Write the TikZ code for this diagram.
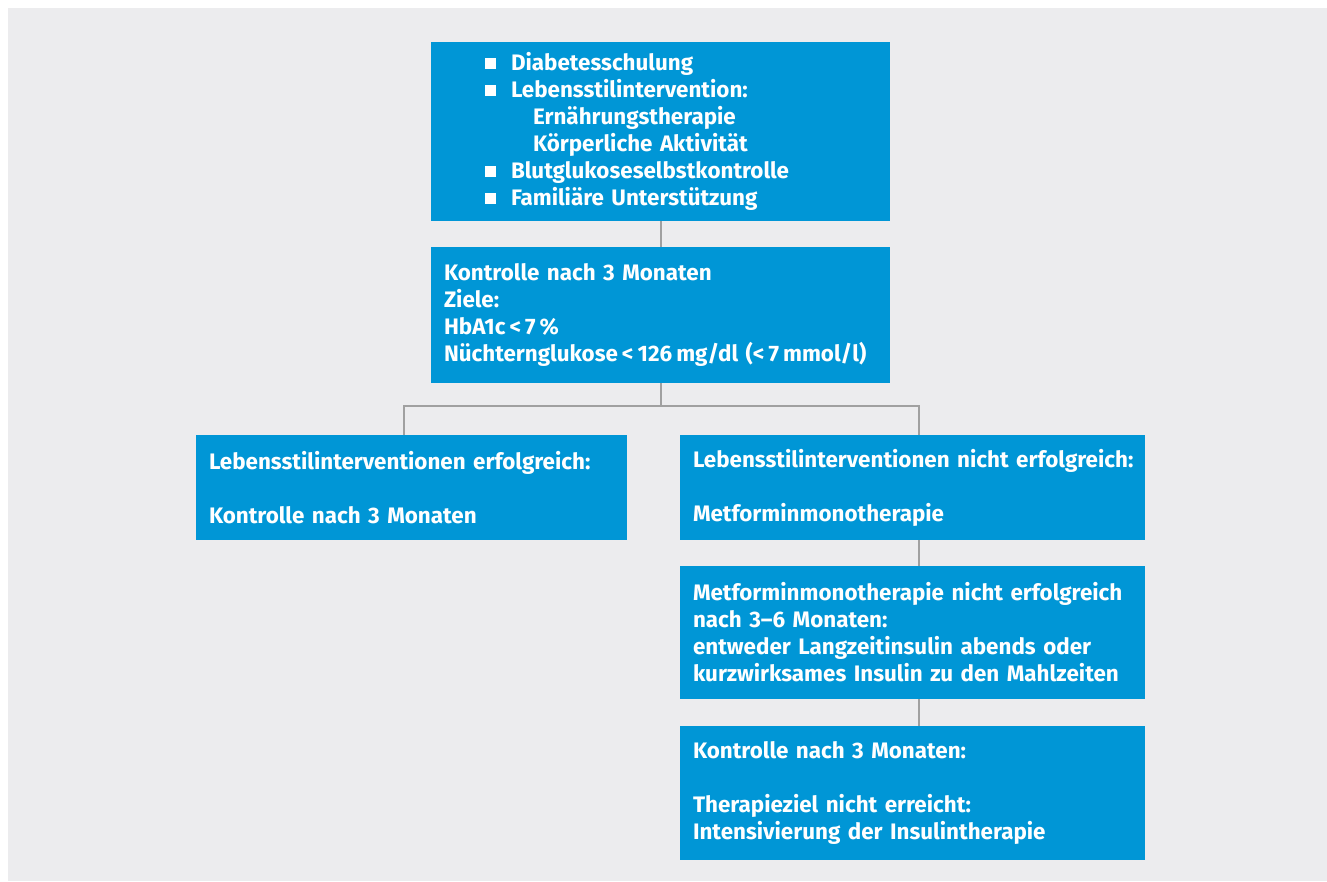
\documentclass[tikz,border=0pt]{standalone}
\usepackage{fontspec}
\setmainfont{Fira Sans}
\definecolor{thiemeblue}{RGB}{0,150,214}
\definecolor{pagegrey}{RGB}{236,236,238}
\definecolor{linegrey}{RGB}{160,160,160}
\newcommand{\sqbul}{\makebox[26pt][l]{\raisebox{1.5pt}{\rule{11pt}{11pt}}}}
\newcommand{\tsp}{\hspace{0.18em}}
\begin{document}
\begin{tikzpicture}[x=1pt,y=-1pt,
  box/.style={fill=thiemeblue, text=white, font=\fontsize{22.4}{27}\selectfont\bfseries,
    align=left, inner xsep=13pt, inner ysep=0pt},
  link/.style={draw=linegrey, line width=2pt}]
\useasboundingbox (0,0) rectangle (1327,881);
\fill[white] (0,0) rectangle (1327,881);
\fill[pagegrey] (8,8) rectangle (1327,881);
% boxes
\node[box, minimum width=459pt, minimum height=179pt, text width=433pt] (basis) at (660.5,131.5)
  {\hspace*{41pt}\sqbul Diabetesschulung\\
   \hspace*{41pt}\sqbul Lebensstilintervention:\\
   \hspace*{89pt}Ernährungstherapie\\
   \hspace*{89pt}Körperliche Aktivität\\
   \hspace*{41pt}\sqbul Blutglukoseselbstkontrolle\\
   \hspace*{41pt}\sqbul Familiäre Unterstützung};
\node[box, minimum width=459pt, minimum height=136pt, text width=433pt] (check) at (660.5,315)
  {Kontrolle nach 3 Monaten\\ Ziele:\\ HbA1c\tsp<\tsp7\tsp\%\\ Nüchternglukose\tsp<\tsp126\tsp mg/dl (<\tsp7\tsp mmol/l)};
\node[box, minimum width=431pt, minimum height=105pt, text width=405pt] (success) at (411.5,487.5)
  {Lebensstilinterventionen erfolgreich:\\[27pt] Kontrolle nach 3 Monaten};
\node[box, minimum width=465pt, minimum height=105pt, text width=439pt] (fail) at (912.5,487.5)
  {\mbox{Lebensstilinterventionen nicht erfolgreich:}\\[27pt] Metforminmonotherapie};
\node[box, minimum width=465pt, minimum height=133pt, text width=439pt] (insulin) at (912.5,632.5)
  {Metforminmonotherapie nicht erfolgreich\\ nach 3–6 Monaten:\\ entweder Langzeitinsulin abends oder\\ kurzwirksames Insulin zu den Mahlzeiten};
\node[box, minimum width=465pt, minimum height=134pt, text width=439pt] (intens) at (912.5,793)
  {Kontrolle nach 3 Monaten:\\[27pt] Therapieziel nicht erreicht:\\ Intensivierung der Insulintherapie};
% connectors
\coordinate (lj) at (404,406);
\coordinate (rj) at (919,406);
\draw[link] (basis.south) -- (check.north);
\draw[link] (check.south) -- (check.south |- lj);
\draw[link] (success.north -| lj) -- (lj) -- (rj) -- (fail.north -| rj);
\draw[link] (fail.south -| rj) -- (insulin.north -| rj);
\draw[link] (insulin.south -| rj) -- (intens.north -| rj);
\end{tikzpicture}
\end{document}
